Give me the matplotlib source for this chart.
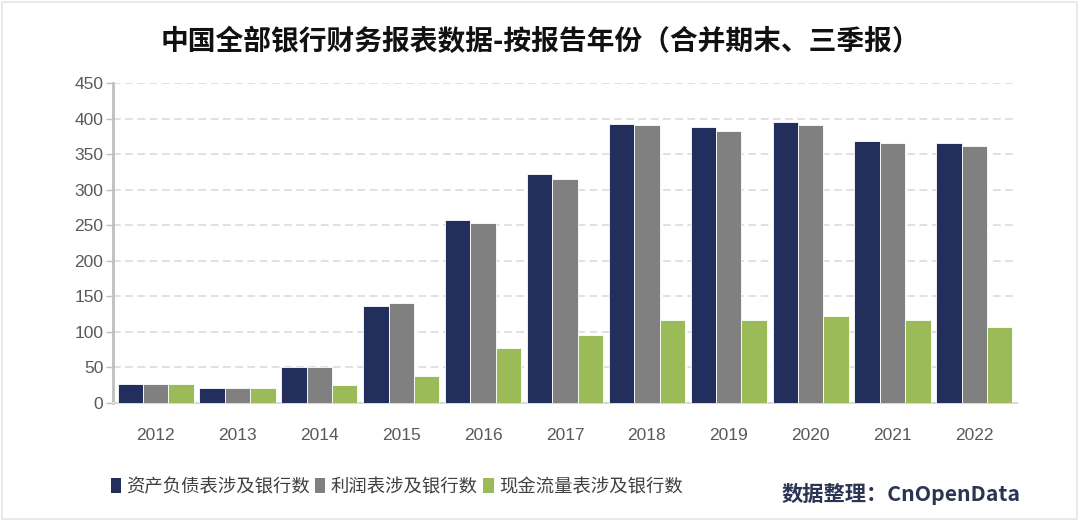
import numpy as np
import matplotlib
matplotlib.use("Agg")
import matplotlib.pyplot as plt
from matplotlib.patches import Rectangle, Patch

plt.rcParams['font.family'] = ['Liberation Sans', 'Noto Sans CJK SC', 'DejaVu Sans']

# Data
years = ["2012", "2013", "2014", "2015", "2016", "2017", "2018", "2019", "2020", "2021", "2022"]
balance_sheet = [27, 21, 50, 137, 257, 322, 392, 388, 395, 369, 365]
income_stmt = [27, 21, 50, 140, 253, 315, 391, 382, 391, 366, 361]
cash_flow = [27, 21, 25, 38, 77, 96, 117, 117, 122, 117, 107]
series_names = ["资产负债表涉及银行数", "利润表涉及银行数", "现金流量表涉及银行数"]
colors = ["#222E5C", "#808080", "#9BBB59"]

fig = plt.figure(figsize=(10.8, 5.21), dpi=100)
ax = fig.add_axes([113 / 1080, 1 - 403 / 521, (1017 - 113) / 1080, (403 - 83) / 521])

x = np.arange(len(years))
w = 0.31
for i, (vals, c) in enumerate(zip([balance_sheet, income_stmt, cash_flow], colors)):
    ax.bar(x + (i - 1) * w, vals, width=w, color=c, edgecolor="white", linewidth=0.6, zorder=3)

ax.set_xlim(-0.52, len(years) - 0.48)
ax.set_ylim(0, 450)
ax.set_yticks(np.arange(0, 451, 50))
ax.set_xticks(x)
ax.set_xticklabels(years)
ax.yaxis.grid(True, linestyle=(0, (5, 3)), color="#D9D9D9", linewidth=1.1, zorder=0)
ax.tick_params(axis="y", length=5, width=1, color="#BFBFBF", labelsize=12.5, labelcolor="#595959", pad=2)
ax.tick_params(axis="x", length=0, labelsize=12.5, labelcolor="#595959", pad=18)
for s in ["top", "right"]:
    ax.spines[s].set_visible(False)
ax.spines["left"].set_color("#BFBFBF")
ax.spines["left"].set_linewidth(2)
ax.spines["bottom"].set_color("#D9D9D9")
ax.spines["bottom"].set_linewidth(1.5)

fig.text(0.5, 1 - 42 / 521, "中国全部银行财务报表数据-按报告年份（合并期末、三季报）",
         ha="center", va="center", fontsize=20, fontweight="bold", color="#111111",
         family=["Noto Sans CJK SC", "DejaVu Sans"])

handles = [Patch(facecolor=c, edgecolor="none") for c in colors]
leg = fig.legend(handles, series_names, loc="center left", bbox_to_anchor=(94 / 1080, 1 - 487 / 521),
                 ncol=3, frameon=False, handlelength=0.55, handleheight=0.85, handletextpad=0.3,
                 columnspacing=0.3, prop={"family": ["Noto Sans CJK SC"], "size": 13.2})
for t in leg.get_texts():
    t.set_color("#404040")

fig.text(1020 / 1080, 1 - 494 / 521, "数据整理：CnOpenData", ha="right", va="center",
         fontsize=15.3, fontweight="bold", color="#2B3553",
         family=["Noto Sans CJK SC", "DejaVu Sans"])

fig.patches.append(Rectangle((0.002, 0.004), 0.995, 0.992, transform=fig.transFigure,
                             fill=False, edgecolor="#E6E6E6", linewidth=1.2))

fig.savefig("out.png", dpi=100)
